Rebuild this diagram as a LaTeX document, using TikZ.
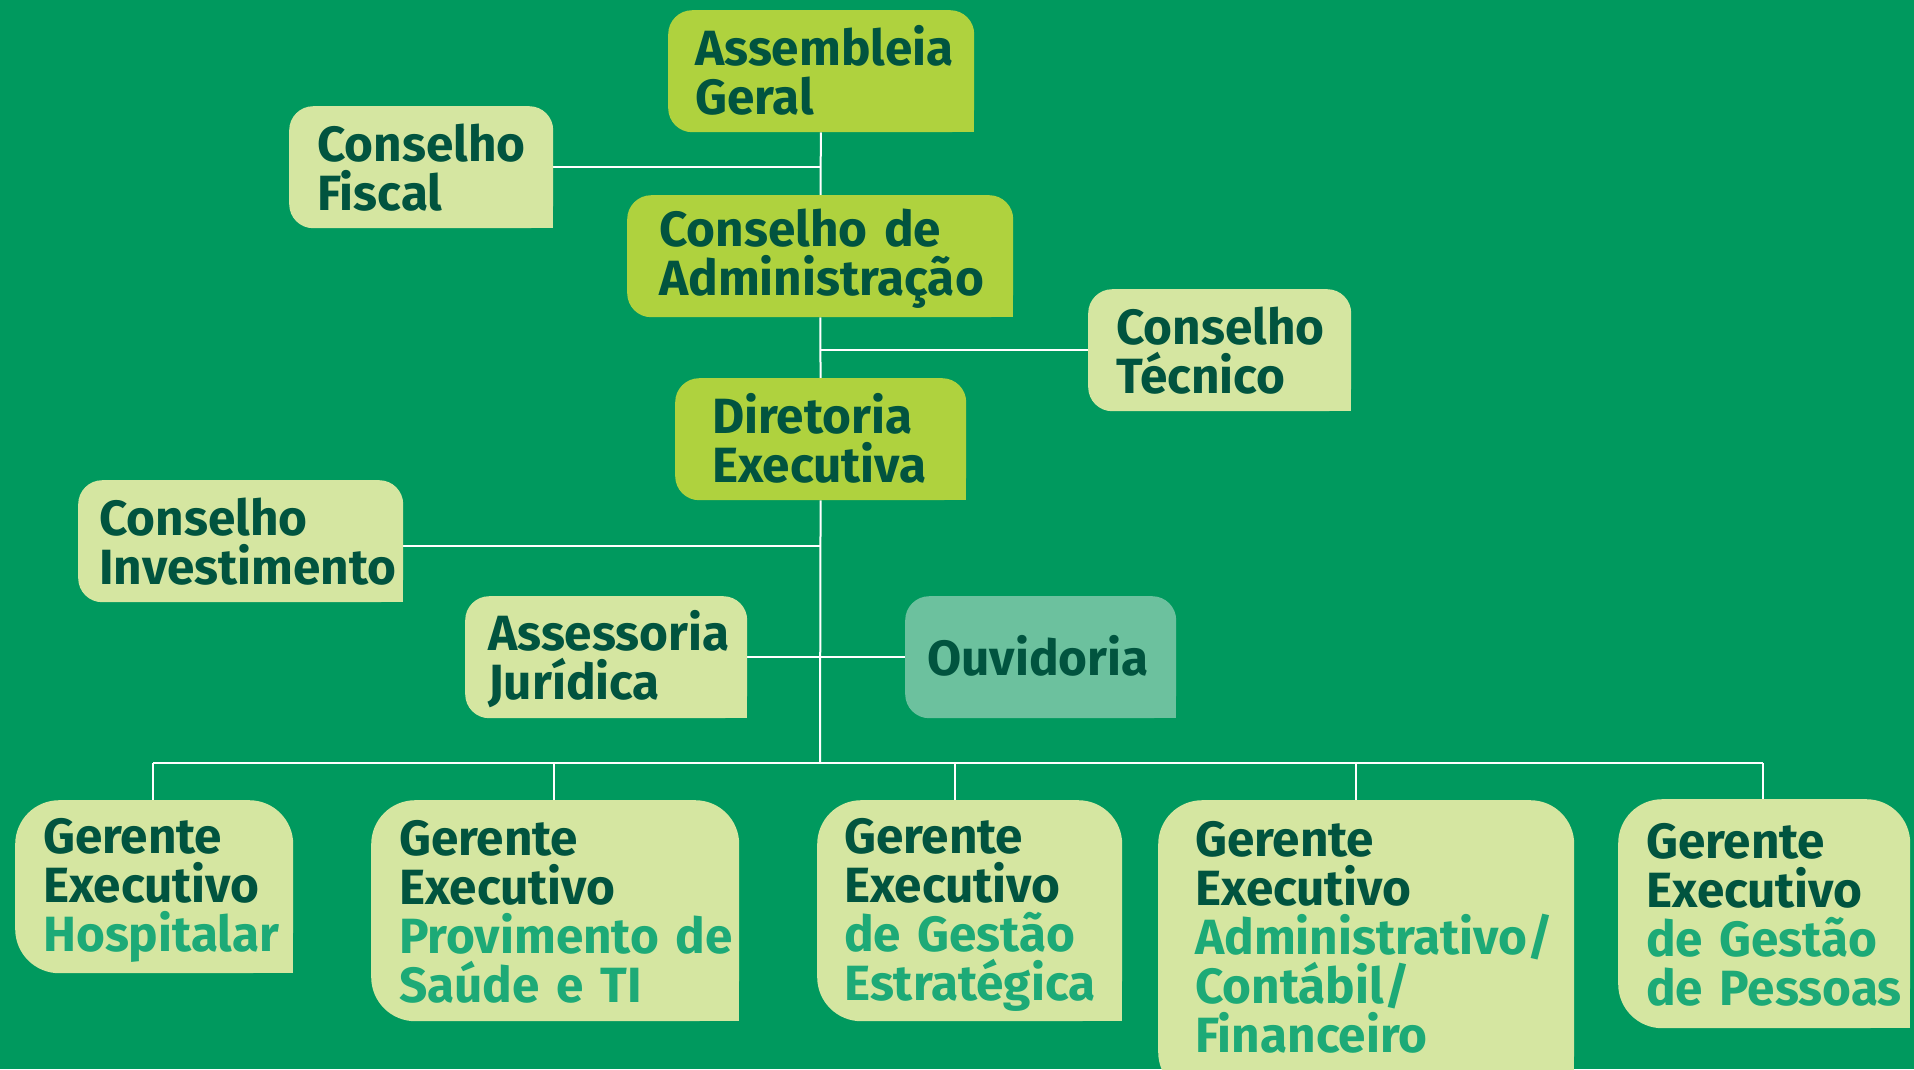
\documentclass[tikz,border=0pt]{standalone}
\usepackage{fontspec}
\setmainfont{Fira Sans}
\usepackage{xcolor}
\usetikzlibrary{positioning, backgrounds}

\definecolor{bggreen}{HTML}{00995E}
\definecolor{limebox}{HTML}{AFD23E}
\definecolor{palebox}{HTML}{D5E6A1}
\definecolor{ouvidbox}{HTML}{6CC19E}
\definecolor{darktext}{HTML}{01543F}
\definecolor{areatext}{HTML}{1DAA77}

\newcommand{\areatxt}[1]{\textcolor{areatext}{#1}}
\newcommand{\boxstrut}{\rule[-6pt]{0pt}{49pt}}
\hyphenpenalty=10000
\exhyphenpenalty=10000

\begin{document}
\begin{tikzpicture}[
    x=1pt, y=-1pt,
    box/.style={anchor=north west, inner ysep=0pt, rounded corners=24pt, align=left, text=darktext, font=\fontsize{49.5}{49}\selectfont\bfseries, execute at begin node=\boxstrut, execute at end node=\boxstrut, minimum height=122pt},
    board/.style={box, fill=limebox},
    council/.style={box, fill=palebox},
    manager/.style={box, fill=palebox, rounded corners=44pt},
    link/.style={draw=white, line width=2pt}
]
\useasboundingbox (0,0) rectangle (1914,1069);

% governance
\node (assembleia) [board, inner xsep=27pt, text width=252pt] at (668,10) {Assembleia\\Geral};
\node (fiscal) [council, inner xsep=28pt, text width=208pt] at (289,106) {Conselho\\Fiscal};
\node (admin) [board, inner xsep=32pt, text width=322pt] at (627,195) {Conselho~de\\Administração};
\node (tecnico) [council, inner xsep=28pt, text width=207pt] at (1088,289) {Conselho\\Técnico};
\node (diretoria) [board, inner xsep=37pt, text width=217pt] at (675,378) {Diretoria\\Executiva};
\node (invest) [council, inner xsep=21pt, text width=283pt] at (78,480) {Conselho\\Investimento};
\node (juridica) [council, inner xsep=23pt, text width=236pt] at (465,596) {Assessoria\\Jurídica};
\node (ouvidoria) [box, fill=ouvidbox, inner xsep=22pt, text width=227pt] at (905,596) {Ouvidoria};

% gerentes
\node (g1) [manager, inner xsep=28pt, text width=222pt, minimum height=173pt] at (15,800) {Gerente\\Executivo\\\areatxt{Hospitalar}};
\node (g2) [manager, inner xsep=28pt, text width=312pt, minimum height=221pt] at (371,800) {Gerente\\Executivo\\\areatxt{Provimento~de}\\\areatxt{Saúde~e~TI}};
\node (g3) [manager, inner xsep=27pt, text width=251pt, minimum height=221pt] at (817,800) {Gerente\\Executivo\\\areatxt{de~Gestão}\\\areatxt{Estratégica}};
\node (g4) [manager, inner xsep=37pt, text width=342pt, minimum height=296pt] at (1158,800) {Gerente\\Executivo\\\areatxt{Administrativo/}\\\areatxt{Contábil/}\\\areatxt{Financeiro}\rule[-31pt]{0pt}{0pt}};
\node (g5) [manager, inner xsep=28pt, text width=236pt, minimum height=229pt] at (1618,799) {Gerente\\Executivo\\\areatxt{de~Gestão}\\\areatxt{de~Pessoas}};

\coordinate (bus) at (820,763);
\coordinate (d1) at (153,763);
\coordinate (d2) at (554,763);
\coordinate (d3) at (955,763);
\coordinate (d4) at (1356,763);
\coordinate (d5) at (1763,763);

% lines and square corners sit behind the boxes
\begin{scope}[on background layer]
\fill[bggreen] (0,0) rectangle (1914,1069);
\foreach \n/\c in {assembleia/limebox, admin/limebox, diretoria/limebox, fiscal/palebox, tecnico/palebox, invest/palebox, juridica/palebox, ouvidoria/ouvidbox, g1/palebox, g2/palebox, g3/palebox, g4/palebox, g5/palebox}
    \fill[\c] (\n.center) rectangle (\n.south east);
\draw[link] (assembleia) -- (admin) -- (diretoria) -- (bus);
\draw[link] (fiscal) -- (fiscal -| bus);
\draw[link] (tecnico) -- (tecnico -| bus);
\draw[link] ([yshift=-5pt]invest.center) -- ([yshift=-5pt]invest.center -| bus);
\draw[link] (juridica) -- (ouvidoria);
\draw[link] (d1) -- (d5);
\foreach \i in {1,...,5}
    \draw[link] (d\i) -- (d\i |- g\i.north);
\end{scope}
\end{tikzpicture}
\end{document}
